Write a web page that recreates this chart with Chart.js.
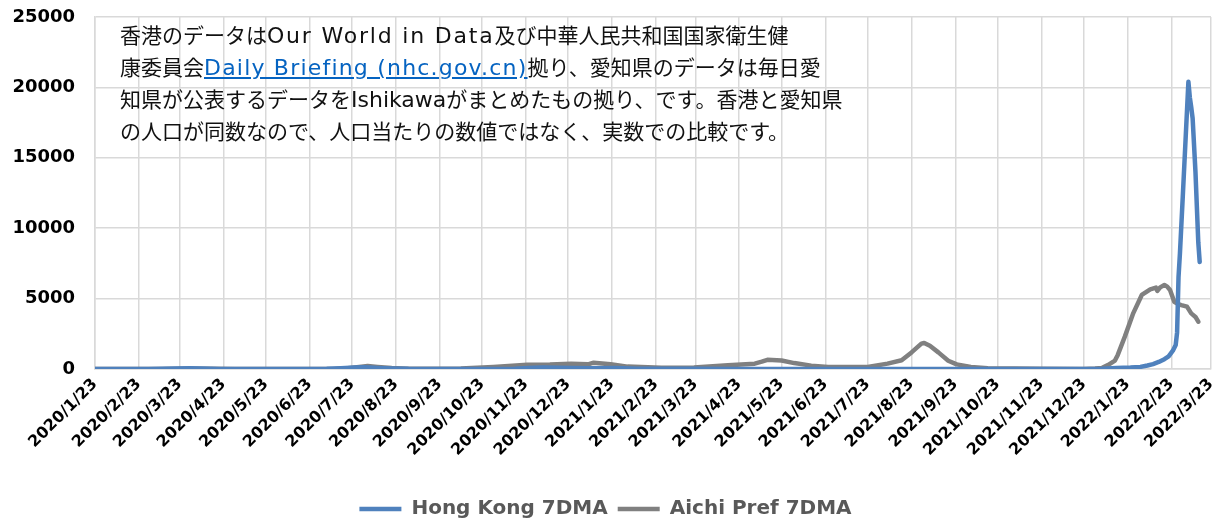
<!DOCTYPE html>
<html>
<head>
<meta charset="utf-8">
<script src="https://cdn.jsdelivr.net/npm/chart.js@4.4.1/dist/chart.umd.min.js"></script>
<style>
  html, body { margin: 0; padding: 0; background: #fff; overflow: hidden; }
  #wrap { position: relative; width: 1217px; height: 529px; }
  #chart { display: block; }
  #note {
    position: absolute; left: 120px; top: 19px;
    font-family: "Noto Sans CJK JP", sans-serif; font-size: 21px; line-height: 30px;
    color: #111; white-space: nowrap;
  }
  #note .lat { font-family: "DejaVu Sans", sans-serif; font-size: 22px; letter-spacing: 1.8px; }
  #note .lat1 { font-family: "DejaVu Sans", sans-serif; font-size: 22px; letter-spacing: 1.2px; }
  #note .lat2 { font-family: "DejaVu Sans", sans-serif; font-size: 22px; letter-spacing: 0px; }
  #note a { color: #0563c1; text-decoration: underline; }
</style>
</head>
<body>
<div id="wrap">
  <canvas id="chart" width="1217" height="529"></canvas>
  <div id="note">香港のデータは<span class="lat">Our World in Data</span>及び中華人民共和国国家衛生健<br>康委員会<a class="lat1" href="#">Daily Briefing (nhc.gov.cn)</a>拠り、愛知県のデータは毎日愛<br>知県が公表するデータを<span class="lat2">Ishikawa</span>がまとめたもの拠り、です。香港と愛知県<br>の人口が同数なので、人口当たりの数値ではなく、実数での比較です。</div>
</div>
<script>
// x axis: one label per month, the 23rd
const tickLabels = [
  '2020/1/23', '2020/2/23', '2020/3/23', '2020/4/23', '2020/5/23', '2020/6/23',
  '2020/7/23', '2020/8/23', '2020/9/23', '2020/10/23', '2020/11/23', '2020/12/23',
  '2021/1/23', '2021/2/23', '2021/3/23', '2021/4/23', '2021/5/23', '2021/6/23',
  '2021/7/23', '2021/8/23', '2021/9/23', '2021/10/23', '2021/11/23', '2021/12/23',
  '2022/1/23', '2022/2/23', '2022/3/23'
];

// Hong Kong 7DMA
const hkDates = [
  '2020/1/23', '2020/2/10', '2020/3/1', '2020/3/20', '2020/3/30', '2020/4/8', '2020/4/20',
  '2020/5/15', '2020/6/23', '2020/7/5', '2020/7/15', '2020/7/25', '2020/8/1', '2020/8/10',
  '2020/8/20', '2020/9/1', '2020/9/23', '2020/10/23', '2020/11/15', '2020/11/25', '2020/12/5',
  '2020/12/15', '2020/12/25', '2021/1/10', '2021/1/25', '2021/2/10', '2021/2/23', '2021/3/10',
  '2021/3/23', '2021/4/23', '2021/5/23', '2021/12/23', '2022/1/5', '2022/1/15', '2022/1/25',
  '2022/2/1', '2022/2/6', '2022/2/10', '2022/2/14', '2022/2/18', '2022/2/21', '2022/2/24',
  '2022/2/26', '2022/2/27', '2022/2/28', '2022/3/1', '2022/3/3', '2022/3/5', '2022/3/7',
  '2022/3/8', '2022/3/9', '2022/3/10', '2022/3/12', '2022/3/14', '2022/3/15'
];
const hkValues = [
  0, 3, 2, 30, 50, 30, 3,
  1, 2, 10, 50, 110, 120, 80,
  40, 10, 8, 6, 20, 70, 100,
  90, 70, 60, 70, 25, 12, 25,
  10, 5, 2, 5, 20, 70, 100,
  150, 250, 350, 500, 700, 900, 1300,
  1700, 2600, 6500, 8200, 12200, 16300, 20400,
  19300, 18600, 17800, 14000, 9000, 7600
];

// Aichi Pref 7DMA
const aichiDates = [
  '2020/1/23', '2020/2/23', '2020/3/10', '2020/3/25', '2020/4/8', '2020/4/15', '2020/5/1',
  '2020/5/20', '2020/6/23', '2020/7/10', '2020/7/20', '2020/7/28', '2020/8/3', '2020/8/10',
  '2020/8/20', '2020/9/1', '2020/9/23', '2020/10/8', '2020/10/31', '2020/11/24', '2020/12/10',
  '2020/12/25', '2021/1/6', '2021/1/10', '2021/1/22', '2021/2/3', '2021/2/27', '2021/3/22',
  '2021/4/15', '2021/5/4', '2021/5/9', '2021/5/13', '2021/5/23', '2021/6/1', '2021/6/13',
  '2021/6/25', '2021/7/23', '2021/8/6', '2021/8/16', '2021/8/23', '2021/8/30', '2021/9/1',
  '2021/9/5', '2021/9/11', '2021/9/18', '2021/9/24', '2021/10/4', '2021/10/16', '2021/11/23',
  '2021/12/23', '2021/12/31', '2022/1/5', '2022/1/9', '2022/1/14', '2022/1/16', '2022/1/21',
  '2022/1/27', '2022/2/2', '2022/2/8', '2022/2/12', '2022/2/13', '2022/2/15', '2022/2/18',
  '2022/2/20', '2022/2/22', '2022/2/25', '2022/2/28', '2022/3/2', '2022/3/6', '2022/3/9',
  '2022/3/12', '2022/3/14'
];
const aichiValues = [
  0, 1, 5, 10, 25, 20, 5,
  0, 0, 5, 60, 150, 220, 150,
  70, 25, 10, 30, 140, 300, 320,
  380, 330, 450, 340, 170, 90, 100,
  260, 380, 520, 650, 600, 420, 240,
  150, 140, 380, 620, 1180, 1800, 1850,
  1650, 1180, 590, 330, 150, 60, 10,
  5, 30, 80, 280, 600, 1000, 2300,
  3970, 5260, 5660, 5780, 5540, 5800, 5970,
  5850, 5610, 4780, 4600, 4540, 4430, 3950,
  3700, 3360
];

const yTicks = [0, 5000, 10000, 15000, 20000, 25000];

const start = Date.UTC(2020, 0, 23);
function toDay(s) {
  const [y, m, d] = s.split('/').map(Number);
  return Math.round((Date.UTC(y, m - 1, d) - start) / 864e5);
}
const tickDays = tickLabels.map(toDay);
const hkData = hkDates.map((d, i) => ({ x: toDay(d), y: hkValues[i] }));
const aichiData = aichiDates.map((d, i) => ({ x: toDay(d), y: aichiValues[i] }));

const gridColor = '#d9d9d9';

new Chart(document.getElementById('chart'), {
  type: 'line',
  data: {
    datasets: [
      {
        label: 'Hong Kong 7DMA',
        data: hkData,
        borderColor: '#4f81bd',
        backgroundColor: '#4f81bd',
        borderWidth: 4.5,
        pointRadius: 0,
        tension: 0,
        borderJoinStyle: 'round',
        borderCapStyle: 'round'
      },
      {
        label: 'Aichi Pref 7DMA',
        data: aichiData,
        borderColor: '#808080',
        backgroundColor: '#808080',
        borderWidth: 4.5,
        pointRadius: 0,
        tension: 0,
        borderJoinStyle: 'round',
        borderCapStyle: 'round'
      }
    ]
  },
  options: {
    responsive: false,
    animation: false,
    layout: { padding: { top: 17, right: 6, bottom: 0, left: 0 } },
    scales: {
      x: {
        type: 'linear',
        min: tickDays[0],
        max: tickDays[tickDays.length - 1],
        afterBuildTicks: (axis) => { axis.ticks = tickDays.map(v => ({ value: v })); },
        afterFit: (axis) => {
          axis.height = 120;
          axis.paddingLeft = 0;
          axis.paddingRight = 0;
        },
        grid: { color: gridColor, lineWidth: 1.5, drawTicks: false },
        border: { color: gridColor, width: 1.5 },
        ticks: {
          autoSkip: false,
          maxRotation: 45,
          minRotation: 45,
          padding: 6,
          color: '#000',
          font: { family: 'DejaVu Sans', size: 16, weight: 'bold' },
          callback: (v, i) => tickLabels[i]
        }
      },
      y: {
        min: 0,
        max: 25000,
        afterBuildTicks: (axis) => { axis.ticks = yTicks.map(v => ({ value: v })); },
        afterFit: (axis) => {
          axis.width = 95;
          axis.paddingTop = 0;
          axis.paddingBottom = 0;
        },
        grid: { color: gridColor, lineWidth: 1.5, drawTicks: false },
        border: { color: gridColor, width: 1.5 },
        ticks: {
          padding: 20,
          color: '#000',
          font: { family: 'DejaVu Sans', size: 18, weight: 'bold' },
          callback: (v) => String(v)
        }
      }
    },
    plugins: {
      legend: {
        position: 'bottom',
        labels: {
          usePointStyle: true,
          pointStyle: 'line',
          pointStyleWidth: 42,
          padding: 10,
          color: '#595959',
          font: { family: 'DejaVu Sans', size: 20, weight: 'bold' }
        }
      },
      tooltip: { enabled: false }
    }
  }
});
</script>
</body>
</html>
